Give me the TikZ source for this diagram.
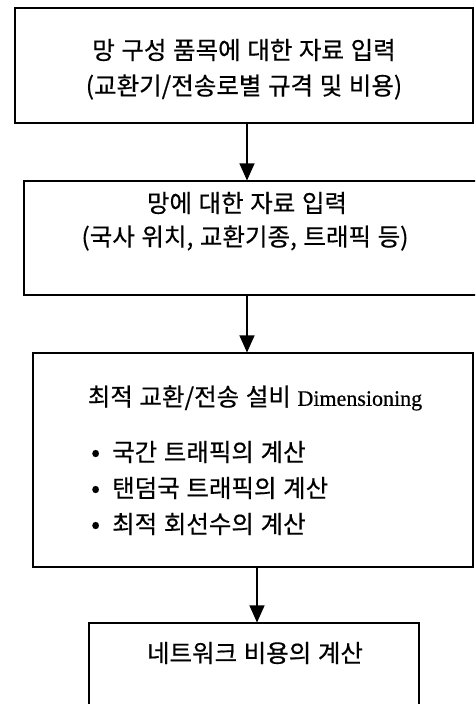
\documentclass[tikz,border=0pt]{standalone}
\usepackage{fontspec}
\setmainfont{Liberation Serif}[FakeBold=0.6]
\newfontfamily\kr{Noto Sans CJK KR}[WordSpace=1.2, FakeBold=0.5]
\usetikzlibrary{arrows.meta}
\tikzset{
  box/.style={draw=black, line width=1.1pt, inner sep=0pt, rectangle},
  txt/.style={inner sep=0pt, font=\kr\fontsize{24.5}{28}\selectfont, text=black},
  arr/.style={line width=1.1pt, -{Triangle[width=15pt,length=17pt]}}
}
\newcommand{\blt}{\makebox[21pt][l]{\fontsize{26}{28}\selectfont •}}
\begin{document}
\begin{tikzpicture}[x=1pt,y=-1pt]
\useasboundingbox (0,0) rectangle (475,704);
\clip (0,0) rectangle (475,704);
\fill[white] (0,0) rectangle (475,704);
% boxes
\node[box, minimum width=458pt, minimum height=115pt] (b1) at (244,65.5) {};
\node[box, minimum width=460pt, minimum height=114pt] (b2) at (254,238) {};
\node[box, minimum width=440pt, minimum height=214pt] (b3) at (253,460) {};
\node[box, minimum width=330pt, minimum height=100pt] (b4) at (254,673) {};
% texts
\node[txt] (t1a) at (244,50) {망 구성 품목에 대한 자료 입력};
\node[txt] (t1b) at (244,87) {(교환기/전송로별 규격 및 비용)};
\node[txt] (t2a) at (247,203) {망에 대한 자료 입력};
\node[txt] (t2b) at (245,238) {(국사 위치, 교환기종, 트래픽 등)};
\node[txt] (t3a) at (255,398) {최적 교환/전송 설비 {\rmfamily\fontsize{22}{26}\selectfont Dimensioning}};
\node[txt, anchor=west] (t3b) at (91,452) {\blt 국간 트래픽의 계산};
\node[txt, anchor=west] (t3c) at (91,488) {\blt 탠덤국 트래픽의 계산};
\node[txt, anchor=west] (t3d) at (91,524) {\blt 최적 회선수의 계산};
\node[txt] (t4) at (255,653) {네트워크 비용의 계산};
% connectors
\coordinate (xa) at (247,0);
\coordinate (xb) at (257,0);
\draw[arr] (b1.south -| xa) -- (b2.north -| xa);
\draw[arr] (b2.south -| xa) -- (b3.north -| xa);
\draw[arr] (b3.south -| xb) -- (b4.north -| xb);
\end{tikzpicture}
\end{document}
